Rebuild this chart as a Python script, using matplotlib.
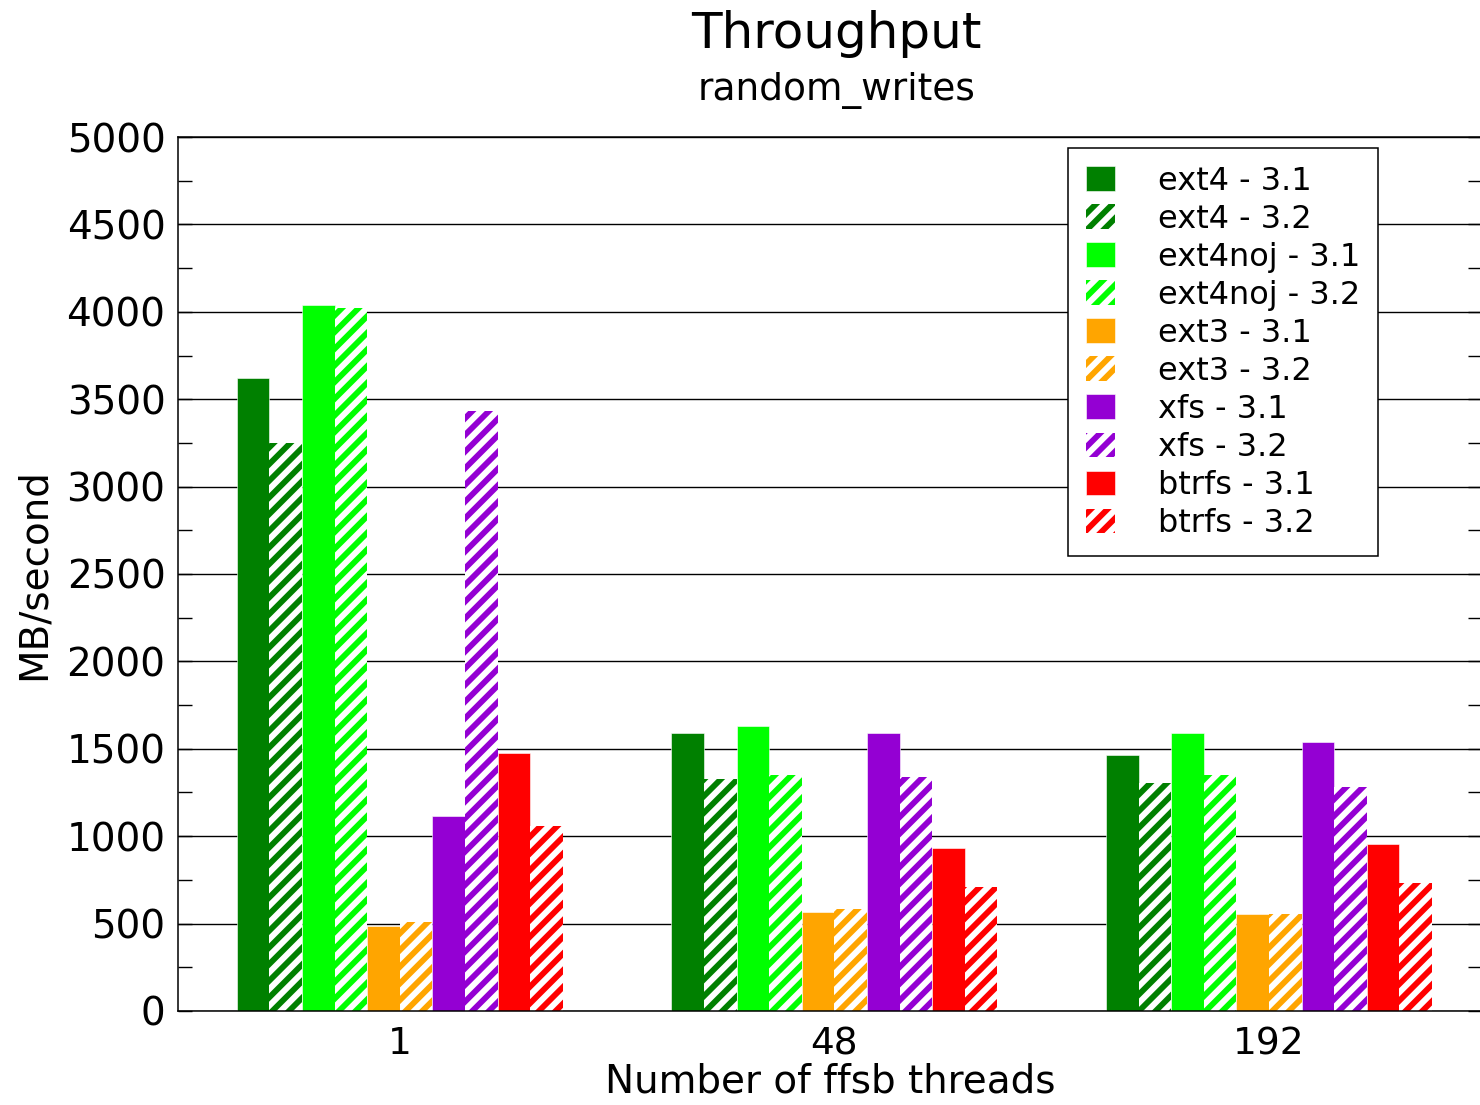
import numpy as np
import matplotlib
matplotlib.use("Agg")
from matplotlib import pyplot as plt

plt.rcParams['font.family'] = ['DejaVu Sans']
plt.rcParams['hatch.linewidth'] = 4.2

groups = ['1', '48', '192']
fs_names = ['ext4', 'ext4noj', 'ext3', 'xfs', 'btrfs']
fs_colors = ['#008000', '#00ff00', '#ffa500', '#9400d3', '#ff0000']
versions = ['3.1', '3.2']

# MB/second, one list per filesystem/kernel, values for 1, 48, 192 threads
ext4_31 = [3620, 1593, 1466]
ext4_32 = [3250, 1325, 1305]
ext4noj_31 = [4040, 1628, 1593]
ext4noj_32 = [4020, 1350, 1350]
ext3_31 = [487, 569, 557]
ext3_32 = [510, 582, 557]
xfs_31 = [1116, 1593, 1536]
xfs_32 = [3434, 1337, 1280]
btrfs_31 = [1477, 932, 953]
btrfs_32 = [1058, 709, 732]

series = [ext4_31, ext4_32, ext4noj_31, ext4noj_32, ext3_31, ext3_32,
          xfs_31, xfs_32, btrfs_31, btrfs_32]

fig = plt.figure(figsize=(14.8, 11.05), dpi=100)
ax = fig.add_axes([0.1203, 0.0851, 0.8811, 0.7909])

x = np.arange(len(groups))
w = 0.075
for i, vals in enumerate(series):
    col = fs_colors[i // 2]
    ver = versions[i % 2]
    lab = f'{fs_names[i // 2]} - {ver}'
    pos = x + (i - 4.5) * w
    if ver == '3.1':
        ax.bar(pos, vals, w, color=col, edgecolor='white', linewidth=0.4, label=lab)
    else:
        ax.bar(pos, vals, w, facecolor='white', edgecolor=col, linewidth=0,
               hatch='//', label=lab)

ax.set_xlim(-0.51, 2.49)
ax.set_ylim(0, 5000)
ax.set_yticks(np.arange(0, 5001, 500))
ax.set_yticks(np.arange(250, 5000, 500), minor=True)
ax.set_xticks(x)
ax.set_xticklabels(groups)
ax.yaxis.grid(True, color='black', linewidth=1.0)
ax.set_axisbelow(True)
ax.tick_params(axis='y', which='both', direction='in', right=True, labelsize=28, pad=9)
ax.tick_params(axis='y', which='major', length=10, width=1.0)
ax.tick_params(axis='y', which='minor', length=10, width=1.0)
ax.tick_params(axis='x', length=0, labelsize=27, pad=11)
for s in ax.spines.values():
    s.set_linewidth(1.1)

ax.set_ylabel('MB/second', fontsize=28, labelpad=10)
ax.set_xlabel('Number of ffsb threads', fontsize=28, labelpad=0)

fig.text(0.565, 0.969, 'Throughput', fontsize=36, ha='center', va='center')
fig.text(0.565, 0.918, 'random_writes', fontsize=27, ha='center', va='center')

leg = ax.legend(loc='upper right', bbox_to_anchor=(0.931, 0.866),
                bbox_transform=fig.transFigure, fontsize=23, frameon=True,
                fancybox=False, edgecolor='black', framealpha=1,
                handlelength=0.9, handleheight=0.8, handletextpad=1.35,
                borderpad=0.55, labelspacing=0.22, borderaxespad=0)
leg.get_frame().set_linewidth(1.1)

fig.savefig('out.png', dpi=100)
